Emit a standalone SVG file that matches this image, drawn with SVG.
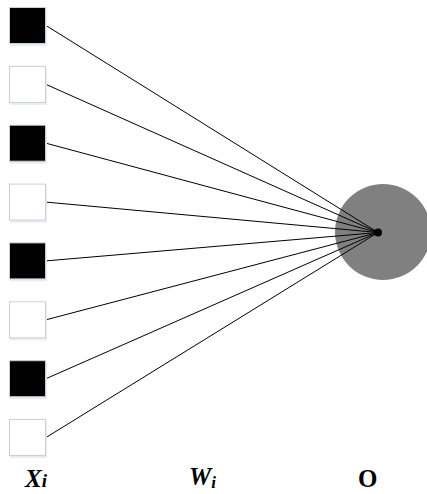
<svg xmlns="http://www.w3.org/2000/svg" width="427" height="494" viewBox="0 0 427 494">
<style>
.sq{stroke:#cfcfcf;stroke-width:1}
.b{fill:#000}
.w{fill:#fff}
.sh{fill:#e6edf7}
.ln{stroke:#000;stroke-width:1;fill:none}
.lb{font-family:"Liberation Serif",serif;font-weight:bold;font-size:25px;fill:#000}
</style>
<g id="output">
<circle cx="383" cy="232" r="48" fill="#808080"/>
</g>
<g id="connectors">
<line class="ln" x1="46" y1="25.5" x2="378" y2="232.5"/>
<line class="ln" x1="46" y1="84.4" x2="378" y2="232.5"/>
<line class="ln" x1="46" y1="143.2" x2="378" y2="232.5"/>
<line class="ln" x1="46" y1="202.1" x2="378" y2="232.5"/>
<line class="ln" x1="46" y1="260.9" x2="378" y2="232.5"/>
<line class="ln" x1="46" y1="319.8" x2="378" y2="232.5"/>
<line class="ln" x1="46" y1="378.7" x2="378" y2="232.5"/>
<line class="ln" x1="46" y1="437.5" x2="378" y2="232.5"/>
<circle cx="378" cy="232.5" r="4" fill="#000"/>
</g>
<g id="x1"><rect class="sh" x="10" y="9" width="37" height="37"/><rect class="sq b" x="9.5" y="7.5" width="36" height="36"/></g>
<g id="x2"><rect class="sh" x="10" y="67.9" width="37" height="37"/><rect class="sq w" x="9.5" y="66.4" width="36" height="36"/></g>
<g id="x3"><rect class="sh" x="10" y="126.7" width="37" height="37"/><rect class="sq b" x="9.5" y="125.2" width="36" height="36"/></g>
<g id="x4"><rect class="sh" x="10" y="185.6" width="37" height="37"/><rect class="sq w" x="9.5" y="184.1" width="36" height="36"/></g>
<g id="x5"><rect class="sh" x="10" y="244.4" width="37" height="37"/><rect class="sq b" x="9.5" y="242.9" width="36" height="36"/></g>
<g id="x6"><rect class="sh" x="10" y="303.3" width="37" height="37"/><rect class="sq w" x="9.5" y="301.8" width="36" height="36"/></g>
<g id="x7"><rect class="sh" x="10" y="362.2" width="37" height="37"/><rect class="sq b" x="9.5" y="360.7" width="36" height="36"/></g>
<g id="x8"><rect class="sh" x="10" y="421" width="37" height="37"/><rect class="sq w" x="9.5" y="419.5" width="36" height="36"/></g>
<g id="labels">
<text class="lb" x="25" y="487" font-style="italic">X<tspan font-size="19">i</tspan></text>
<text class="lb" x="189" y="485" font-style="italic">W<tspan font-size="17" dy="3">i</tspan></text>
<text class="lb" x="358" y="487">O</text>
</g>
</svg>
